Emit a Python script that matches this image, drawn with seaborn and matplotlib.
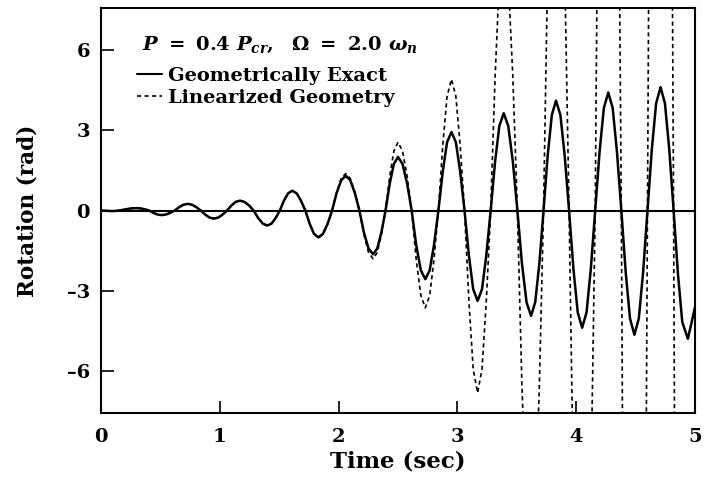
import matplotlib
matplotlib.use("Agg")
import matplotlib.pyplot as plt
import seaborn as sns
import pandas as pd
from matplotlib.lines import Line2D

# ---- data ----
time_s = [
    0.000, 0.050, 0.100, 0.150, 0.200, 0.250,
    0.300, 0.335, 0.370, 0.405, 0.440, 0.475,
    0.510, 0.547, 0.583, 0.620, 0.657, 0.693,
    0.730, 0.767, 0.803, 0.840, 0.877, 0.913,
    0.950, 0.987, 1.023, 1.060, 1.097, 1.133,
    1.170, 1.208, 1.247, 1.285, 1.323, 1.362,
    1.400, 1.435, 1.470, 1.505, 1.540, 1.575,
    1.610, 1.647, 1.683, 1.720, 1.757, 1.793,
    1.830, 1.868, 1.907, 1.945, 1.983, 2.022,
    2.060, 2.098, 2.137, 2.175, 2.213, 2.252,
    2.290, 2.325, 2.360, 2.395, 2.430, 2.465,
    2.500, 2.538, 2.577, 2.615, 2.653, 2.692,
    2.730, 2.767, 2.803, 2.840, 2.877, 2.913,
    2.950, 2.987, 3.023, 3.060, 3.097, 3.133,
    3.170, 3.207, 3.243, 3.280, 3.317, 3.353,
    3.390, 3.428, 3.467, 3.505, 3.543, 3.582,
    3.620, 3.655, 3.690, 3.725, 3.760, 3.795,
    3.830, 3.867, 3.903, 3.940, 3.977, 4.013,
    4.050, 4.087, 4.123, 4.160, 4.197, 4.233,
    4.270, 4.307, 4.343, 4.380, 4.417, 4.453,
    4.490, 4.527, 4.563, 4.600, 4.637, 4.673,
    4.710, 4.747, 4.783, 4.820, 4.857, 4.893,
    4.940, 4.970, 5.000,
]

exact_rad = [
    0.00, -0.01, -0.02, 0.00, 0.04, 0.08,
    0.09, 0.078, 0.045, 0.00, -0.085, -0.148,
    -0.17, -0.148, -0.085, 0.00, 0.125, 0.217,
    0.25, 0.217, 0.125, 0.00, -0.15, -0.261,
    -0.30, -0.261, -0.15, 0.00, 0.185, 0.322,
    0.37, 0.322, 0.185, 0.00, -0.28, -0.487,
    -0.56, -0.487, -0.28, 0.00, 0.37, 0.644,
    0.74, 0.644, 0.37, 0.00, -0.50, -0.87,
    -1.00, -0.87, -0.50, 0.00, 0.65, 1.131,
    1.30, 1.131, 0.65, 0.00, -0.815, -1.418,
    -1.63, -1.418, -0.815, 0.00, 1.00, 1.74,
    2.00, 1.74, 1.00, 0.00, -1.28, -2.227,
    -2.56, -2.227, -1.28, 0.00, 1.465, 2.549,
    2.93, 2.549, 1.465, 0.00, -1.685, -2.932,
    -3.37, -2.932, -1.685, 0.00, 1.815, 3.158,
    3.63, 3.158, 1.815, 0.00, -1.965, -3.419,
    -3.93, -3.419, -1.965, 0.00, 2.05, 3.567,
    4.10, 3.567, 2.05, 0.00, -2.185, -3.802,
    -4.37, -3.802, -2.185, 0.00, 2.20, 3.828,
    4.40, 3.828, 2.20, 0.00, -2.315, -4.028,
    -4.63, -4.028, -2.315, 0.00, 2.30, 4.002,
    4.60, 4.002, 2.30, 0.00, -2.39, -4.159,
    -4.78, -4.20, -3.60,
]

linear_rad = [
    0.00, -0.01, -0.02, 0.00, 0.04, 0.08,
    0.09, 0.078, 0.045, 0.00, -0.085, -0.148,
    -0.17, -0.148, -0.085, 0.00, 0.125, 0.217,
    0.25, 0.217, 0.125, 0.00, -0.15, -0.261,
    -0.30, -0.261, -0.15, 0.00, 0.185, 0.322,
    0.37, 0.322, 0.185, 0.00, -0.28, -0.487,
    -0.56, -0.487, -0.28, 0.00, 0.37, 0.644,
    0.74, 0.644, 0.37, 0.00, -0.50, -0.87,
    -1.02, -0.887, -0.51, 0.00, 0.69, 1.20,
    1.38, 1.20, 0.69, 0.00, -0.90, -1.566,
    -1.80, -1.566, -0.90, 0.00, 1.275, 2.219,
    2.55, 2.219, 1.275, 0.00, -1.815, -3.158,
    -3.63, -3.158, -1.815, 0.00, 2.45, 4.263,
    4.90, 4.263, 2.45, 0.00, -3.40, -5.916,
    -6.80, -5.916, -3.40, 0.00, 4.95, 8.613,
    9.9, 8.613, 4.95, 0.00, -6.5, -11.31,
    -13.0, -11.31, -6.5, 0.00, 9.0, 15.66,
    18.0, 15.66, 9.0, 0.00, -10.5, -18.27,
    -21.0, -18.27, -10.5, 0.00, 20.5, 35.67,
    41.0, 35.67, 20.5, 0.00, -30.0, -52.2,
    -60.0, -52.2, -30.0, 0.00, 30.0, 52.2,
    60.0, 52.2, 30.0, 0.00, -40.0, -69.6,
    -80.0, -69.6, -40.0,
]

series_names = ["Geometrically Exact", "Linearized Geometry"]
x_ticks = [0, 1, 2, 3, 4, 5]
y_ticks = [-6, -3, 0, 3, 6]
title_text = r"$P\ =\ 0.4\ P_{cr},\ \ \Omega\ =\ 2.0\ \omega_n$"

df = pd.concat([
    pd.DataFrame({"t": time_s, "rot": exact_rad, "series": series_names[0]}),
    pd.DataFrame({"t": time_s, "rot": linear_rad, "series": series_names[1]}),
])

sns.set_style("ticks")
plt.rcParams["font.family"] = ["DejaVu Serif"]
plt.rcParams["font.weight"] = "bold"
plt.rcParams["mathtext.fontset"] = "custom"
plt.rcParams["mathtext.rm"] = "DejaVu Serif:bold"
plt.rcParams["mathtext.it"] = "DejaVu Serif:bold:italic"
plt.rcParams["mathtext.bf"] = "DejaVu Serif:bold"
for key in ["text.color", "axes.labelcolor", "xtick.color", "ytick.color",
            "axes.edgecolor"]:
    plt.rcParams[key] = "black"

fig = plt.figure(figsize=(7.05, 4.78), dpi=100)
ax = fig.add_axes([0.1433, 0.136, 0.8425, 0.847])

ax.axhline(0, color="black", lw=1.5, zorder=1)

sns.lineplot(data=df, x="t", y="rot", hue="series", style="series",
             palette=["black", "black"], dashes=[(1, 0), (2.5, 2.0)],
             sort=False, estimator=None, ax=ax, legend=False, zorder=2)
lines = ax.get_lines()
lines[1].set_linewidth(1.8)
lines[2].set_linewidth(1.2)

ax.set_xlim(0, 5)
ax.set_ylim(-7.55, 7.55)
ax.set_xticks(x_ticks)
ax.set_yticks(y_ticks)
ax.set_yticklabels([f"{v}".replace("-", "\u2013") for v in y_ticks])
ax.tick_params(direction="in", length=9, width=1.2, labelsize=14,
               colors="black")
ax.tick_params(axis="x", pad=11)
ax.tick_params(axis="y", pad=8)
for s in ax.spines.values():
    s.set_linewidth(1.5)
    s.set_color("black")

ax.set_xlabel("Time (sec)", fontsize=16.5, fontweight="bold", labelpad=3,
              color="black")
ax.set_ylabel("Rotation (rad)", fontsize=15.5, fontweight="bold", labelpad=20,
              color="black")

ax.text(0.069, 0.909, title_text, transform=ax.transAxes, fontsize=14,
        va="center", ha="left", color="black")

handles = [Line2D([], [], color="black", lw=1.5),
           Line2D([], [], color="black", lw=1.2, dashes=(2.5, 2.0))]
leg = ax.legend(handles, series_names, loc="upper left",
                bbox_to_anchor=(0.047, 0.874), frameon=False, fontsize=14,
                handlelength=1.3, handletextpad=0.3, labelspacing=0.22,
                borderaxespad=0)
for txt in leg.get_texts():
    txt.set_color("black")

fig.savefig("out.png", dpi=100)
